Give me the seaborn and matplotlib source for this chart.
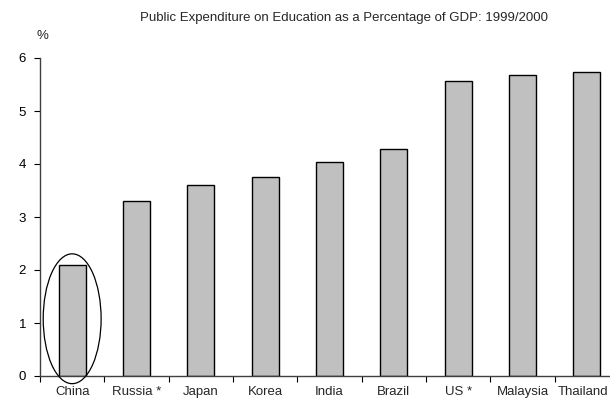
import matplotlib
matplotlib.use("Agg")
import matplotlib.pyplot as plt
from matplotlib.patches import Ellipse
from matplotlib.transforms import ScaledTranslation
import seaborn as sns
import pandas as pd

countries = ["China", "Russia *", "Japan", "Korea", "India", "Brazil", "US *", "Malaysia", "Thailand"]
values = [2.1, 3.3, 3.6, 3.75, 4.03, 4.29, 5.57, 5.67, 5.73]
y_ticks = [0, 1, 2, 3, 4, 5, 6]
title = "Public Expenditure on Education as a Percentage of GDP: 1999/2000"

sns.set_style("white")
plt.rcParams["font.family"] = ["Liberation Sans", "DejaVu Sans"]

df = pd.DataFrame({"country": countries, "value": values})

fig = plt.figure(figsize=(6.1, 4.0), dpi=100)
ax = fig.add_axes([40 / 610, 24 / 400, 579 / 610, 318 / 400])

sns.barplot(data=df, x="country", y="value", color="#C0C0C0", saturation=1,
            width=0.42, edgecolor="black", linewidth=1.0, ax=ax)

ax.set_ylim(0, 6)
ax.set_xlim(-0.5, len(countries) - 0.5)
ax.set_yticks(y_ticks)
ax.set_yticklabels([str(t) for t in y_ticks], fontsize=9.5)
ax.set_xticks(range(len(countries)))
ax.set_xticklabels(countries, fontsize=9.5)
ax.tick_params(axis="x", length=0, pad=7)
ax.tick_params(axis="y", length=4, width=0.8, direction="out", left=True, pad=6, colors="black")
# category boundary ticks
ax.set_xticks([i - 0.5 for i in range(len(countries) + 1)], minor=True)
ax.tick_params(axis="x", which="minor", length=4, width=0.8, direction="out", bottom=True, color="black")

# keep the last label inside the figure
last = ax.get_xticklabels()[-1]
last.set_transform(last.get_transform() + ScaledTranslation(-4 / 100, 0, fig.dpi_scale_trans))

ax.set_xlabel("")
ax.set_ylabel("")
for s in ["top", "right"]:
    ax.spines[s].set_visible(False)
for s in ["left", "bottom"]:
    ax.spines[s].set_color("#404040")
    ax.spines[s].set_linewidth(1.0)

ell = Ellipse((0, 1.08), width=0.9, height=2.45, fill=False, edgecolor="black",
              linewidth=0.9, clip_on=False, zorder=5)
ax.add_patch(ell)

fig.text(344 / 610, 1 - 18 / 400, title, ha="center", va="center", fontsize=9.5)
fig.text(42 / 610, 1 - 36 / 400, "%", ha="center", va="center", fontsize=9.5)

fig.savefig("out.png", dpi=100)
